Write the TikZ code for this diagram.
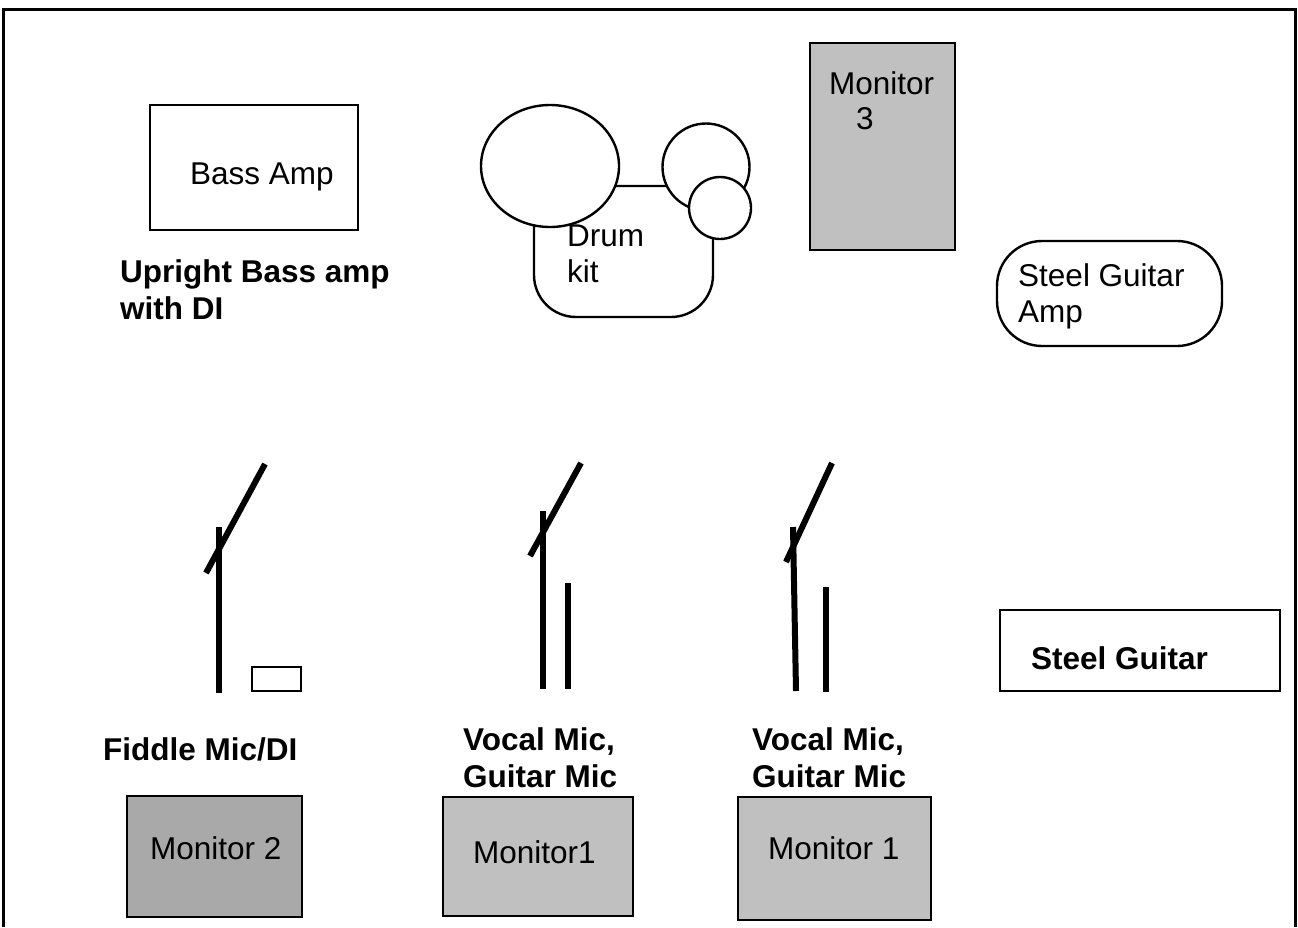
\documentclass[tikz,border=0pt]{standalone}
\usepackage{fontspec}
\setmainfont{Liberation Sans}
\usetikzlibrary{shapes.geometric}
\definecolor{monlight}{HTML}{C0C0C0}
\definecolor{mondark}{HTML}{A9A9A9}
\begin{document}
\begin{tikzpicture}[x=1pt,y=-1pt,
  box/.style={draw,line width=2.4pt,inner sep=0pt,outer sep=0pt,anchor=north west},
  roundshape/.style={draw,line width=2.4pt,fill=white,inner sep=0pt,outer sep=0pt},
  lbl/.style={anchor=base west,inner sep=0pt,align=left,font=\fontsize{31.5}{35.5}\selectfont},
  blbl/.style={anchor=base west,inner sep=0pt,align=left,font=\fontsize{31.5}{36.5}\selectfont\bfseries},
  stand/.style={line width=6pt}]
\useasboundingbox (0,0) rectangle (1298,927);
% outer frame (open at bottom)
\coordinate (fbl) at (3,927);
\coordinate (ftl) at (3,9);
\coordinate (ftr) at (1295,9);
\coordinate (fbr) at (1295,927);
\draw[line width=3pt] (fbl) -- (ftl) -- (ftr) -- (fbr);

% Bass amp
\node[box,minimum width=208pt,minimum height=125pt] (bassamp) at (150,105) {};
\node[lbl] (bassamptxt) at (190,184) {Bass Amp};
\node[blbl] (uprighttxt) at (120,319) {Upright Bass amp\\with DI};

% Drum kit
\node[box,rounded corners=42pt,minimum width=179pt,minimum height=131pt] (kit) at (534,186) {};
\node[roundshape,ellipse,minimum width=138pt,minimum height=122pt] (kick) at (550,166) {};
\node[roundshape,circle,minimum size=87pt] (tom) at (706,167) {};
\node[roundshape,circle,minimum size=62pt] (snare) at (720,208) {};
\node[lbl] (kittxt) at (567,282) {Drum\\kit};

% Monitor 3
\node[box,fill=monlight,minimum width=145pt,minimum height=207pt] (mon3) at (810,43) {};
\node[lbl] (mon3a) at (829,94) {Monitor};
\node[lbl] (mon3b) at (856,129) {3};

% Steel guitar amp
\node[box,rounded corners=45pt,minimum width=225pt,minimum height=105pt] (sgamp) at (997,241) {};
\node[lbl] (sgamptxt) at (1018,322) {Steel Guitar\\Amp};

% Steel guitar
\node[box,minimum width=280pt,minimum height=81pt] (sg) at (1000,610) {};
\node[blbl] (sgtxt) at (1031,669) {Steel Guitar};

% Fiddle mic stand + DI
\coordinate (s1top) at (219,527);
\coordinate (s1bot) at (219,693);
\coordinate (b1lo) at (206,573);
\coordinate (b1hi) at (265,464);
\draw[stand] (s1top) -- (s1bot);
\draw[stand] (b1lo) -- (b1hi);
\node[box,line width=2pt,minimum width=49pt,minimum height=24pt] (di) at (252,667) {};
\node[blbl] (fiddletxt) at (103,760) {Fiddle Mic/DI};

% Vocal/guitar mic stand 1
\coordinate (s2top) at (543,511);
\coordinate (s2bot) at (543,689);
\coordinate (b2lo) at (530,556);
\coordinate (b2hi) at (581,463);
\coordinate (g2top) at (568,583);
\coordinate (g2bot) at (568,689);
\draw[stand] (s2top) -- (s2bot);
\draw[stand] (b2lo) -- (b2hi);
\draw[stand] (g2top) -- (g2bot);
\node[blbl] (vocal1txt) at (463,787) {Vocal Mic,\\Guitar Mic};

% Vocal/guitar mic stand 2
\coordinate (s3top) at (793,527);
\coordinate (s3bot) at (796,691);
\coordinate (b3lo) at (786,562);
\coordinate (b3hi) at (832,463);
\coordinate (g3top) at (826,587);
\coordinate (g3bot) at (826,692);
\draw[stand] (s3top) -- (s3bot);
\draw[stand] (b3lo) -- (b3hi);
\draw[stand] (g3top) -- (g3bot);
\node[blbl] (vocal2txt) at (752,787) {Vocal Mic,\\Guitar Mic};

% Floor monitors
\node[box,fill=mondark,minimum width=175pt,minimum height=121pt] (mon2) at (127,796) {};
\node[lbl] (mon2txt) at (150,859) {Monitor 2};
\node[box,fill=monlight,minimum width=190pt,minimum height=119pt] (mon1a) at (443,797) {};
\node[lbl] (mon1atxt) at (473,863) {Monitor1};
\node[box,fill=monlight,minimum width=193pt,minimum height=123pt] (mon1b) at (738,797) {};
\node[lbl] (mon1btxt) at (768,859) {Monitor 1};
\end{tikzpicture}
\end{document}
